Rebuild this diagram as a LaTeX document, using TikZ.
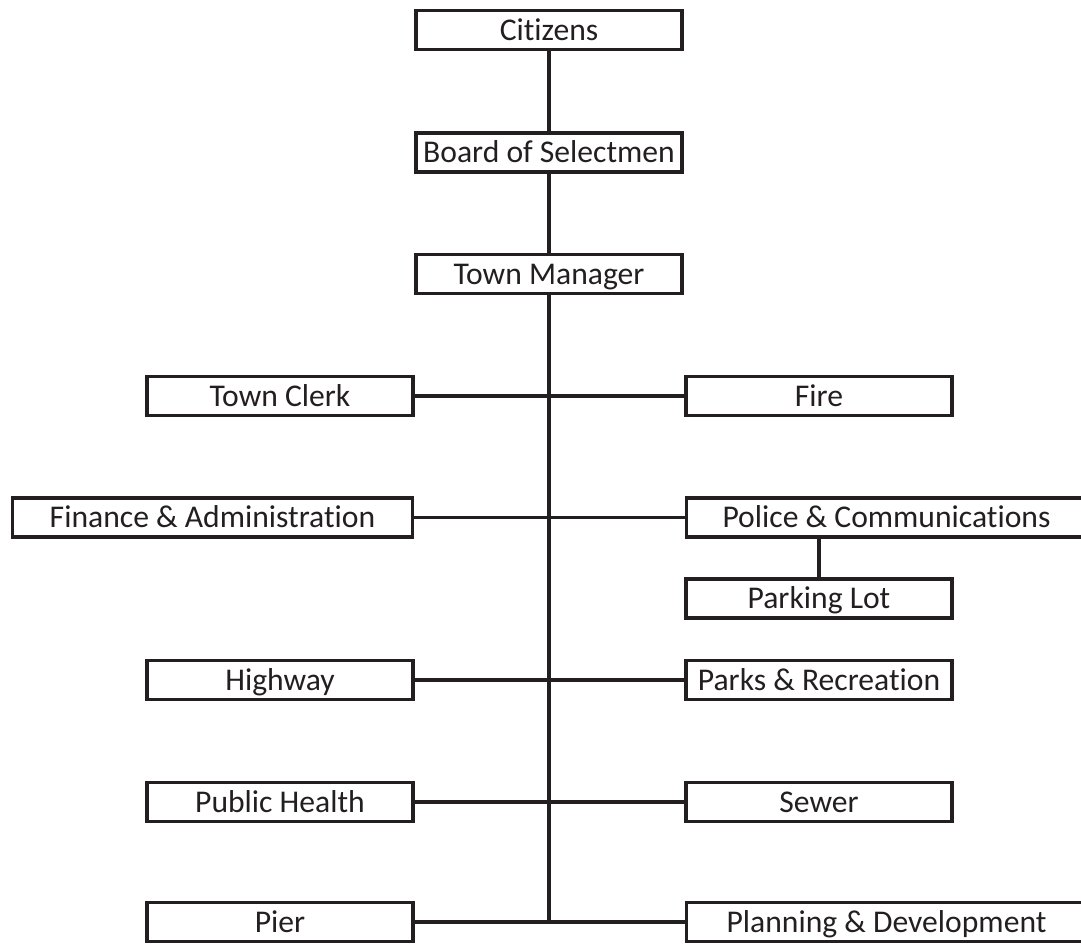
\documentclass[tikz,border=0pt]{standalone}
\usepackage{fontspec}
\setmainfont{Carlito}[Ligatures={NoCommon}]
\usepackage{tikz}
\definecolor{ink}{RGB}{35,31,32}

\begin{document}
\begin{tikzpicture}[scale=1, every node/.style={rectangle, draw=ink, text=ink, line width=2.4pt, minimum width=6.65cm, minimum height=0.97cm, inner sep=0pt, text height=18pt, text depth=3.5pt, font=\fontsize{22.5}{27}\selectfont}, widebox/.style={minimum width=10cm}]
  \useasboundingbox (0cm,0cm) rectangle (27.025cm,-23.6cm);
  \clip (0cm,0cm) rectangle (27.025cm,-23.6cm);
  \node (cit) at (13.725cm,-0.75cm) {Citizens};
  \node (bos) at (13.725cm,-3.8125cm) {Board of Selectmen};
  \node (tm) at (13.725cm,-6.85cm) {Town Manager};
  \node (clerk) at (7cm,-9.9cm) {Town Clerk};
  \node (fire) at (20.475cm,-9.9cm) {Fire};
  \node[widebox] (fin) at (5.3125cm,-12.9375cm) {Finance \& Administration};
  \node[widebox] (pol) at (22.1625cm,-12.9375cm) {Police \& Communications};
  \node (park) at (20.475cm,-14.9625cm) {Parking Lot};
  \node (hwy) at (7cm,-17cm) {Highway};
  \node (rec) at (20.475cm,-17cm) {Parks \& Recreation};
  \node (ph) at (7cm,-20.05cm) {Public Health};
  \node (sew) at (20.475cm,-20.05cm) {Sewer};
  \node (pier) at (7cm,-23.05cm) {Pier};
  \node[widebox] (plan) at (22.1625cm,-23.05cm) {Planning \& Development};

  \draw[ink, line width=2.4pt] (cit) -- (bos) -- (tm);
  \draw[ink, line width=2.4pt] (tm.south) -- (tm.south |- pier.east);
  \draw[ink, line width=2.4pt] (clerk) -- (fire); \draw[ink, line width=2.4pt] (fin) -- (pol); \draw[ink, line width=2.4pt] (hwy) -- (rec);
  \draw[ink, line width=2.4pt] (ph) -- (sew); \draw[ink, line width=2.4pt] (pier) -- (plan);
  \draw[ink, line width=2.4pt] (park.north) -- (park.north |- pol.south);
\end{tikzpicture}
\end{document}
